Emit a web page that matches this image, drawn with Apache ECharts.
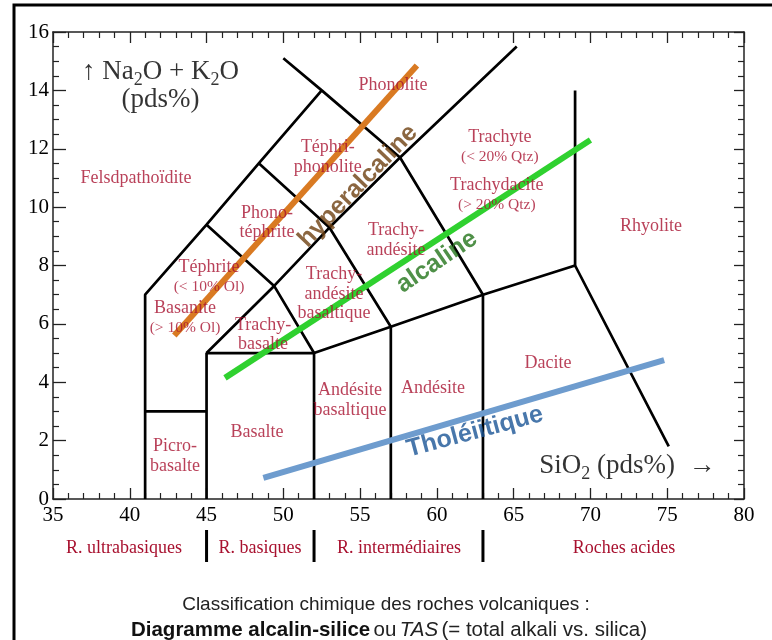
<!DOCTYPE html>
<html><head><meta charset="utf-8">
<script src="https://cdn.jsdelivr.net/npm/echarts@6/dist/echarts.min.js"></script>
<style>html,body{margin:0;padding:0;background:#fff}#c{width:772px;height:640px}</style>
</head><body><div id="c"></div>
<script>
// ---- data ----
const xRange = [35, 80];
const yRange = [0, 16];
const boundaryLines = [
  [[41,0],[41,7],[45,9.4],[48.4,11.5],[52.5,14]],
  [[50,15.1],[52.5,14],[57.6,11.7],[63,7],[69,8],[75.1,1.8]],
  [[45,5],[49.4,7.3],[53,9.3],[57.6,11.7],[65.2,15.5]],
  [[41,3],[45,3]],
  [[45,0],[45,5],[52,5],[57,5.9],[63,7]],
  [[52,0],[52,5],[49.4,7.3],[45,9.4]],
  [[57,0],[57,5.9],[53,9.3],[48.4,11.5]],
  [[63,0],[63,7]],
  [[69,8],[69,14]]
];
const hyperalkalineLine = [[42.9,5.6],[58.7,14.85]];
const alkalineLine = [[46.2,4.15],[70.0,12.3]];
const tholeiiticLine = [[48.7,0.72],[74.8,4.76]];
const regionNames = [
  'Felsdpathoïdite',
  'Phonolite',
  'Téphri-\nphonolite',
  '{b|Trachyte}\n{s|(< 20% Qtz)}',
  '{b|Trachydacite}\n{s|(> 20% Qtz)}',
  'Phono-\ntéphrite',
  'Trachy-\nandésite',
  'Rhyolite',
  '{b|Téphrite}\n{s|(< 10% Ol)}',
  '{b|Basanite}\n{s|(> 10% Ol)}',
  'Trachy-\nandésite\nbasaltique',
  'Trachy-\nbasalte',
  'Dacite',
  'Andésite',
  'Andésite\nbasaltique',
  'Basalte',
  'Picro-\nbasalte'
];
const regionX = [40.4, 57.14, 52.9, 64.1, 63.9, 48.94, 57.34, 73.94, 45.16, 43.6, 53.3, 48.68, 67.23, 59.75, 54.34, 48.28, 42.94];
const regionY = [11.0, 14.18, 11.7, 12.06, 10.42, 9.46, 8.87, 9.35, 7.6, 6.2, 7.02, 5.62, 4.66, 3.8, 3.39, 2.3, 1.47];
const seriesLabels = ['hyperalcaline', 'alcaline', 'Tholéiitique'];
const seriesLabelPos = [[54.86, 10.72], [60.0, 8.12], [62.48, 2.30]];
const groupNames = ['R. ultrabasiques', 'R. basiques', 'R. intermédiaires', 'Roches acides'];
const groupX = [39.62, 48.48, 57.53, 72.18];
const groupSeparators = [45, 52, 63];
const yTitle1 = '↑ Na{s|2}O + K{s|2}O';
const yTitle2 = '(pds%)';
const xTitle = 'SiO{s|2} (pds%)  →';
const yTitlePos = [[42.0, 14.62], [42.0, 13.67]];
const xTitlePos = [[72.4, 1.12]];

// ---- style ----
const SERIF = '"Liberation Serif", "Times New Roman", serif';
const SANS = '"Liberation Sans", Arial, sans-serif';
const RED = '#a8112f';

const chart = echarts.init(document.getElementById('c'), null, {renderer: 'canvas'});

function axisCommon(pos, showLabel, interval, minorSplit, tickLen) {
  return {
    type: 'value', position: pos,
    axisLine: {show: true, onZero: false, lineStyle: {color: '#222', width: 1.5}},
    axisTick: {show: true, inside: true, length: tickLen, lineStyle: {color: '#222', width: 1.3}},
    minorTick: {show: true, splitNumber: minorSplit, length: 6, lineStyle: {color: '#222', width: 1.2}},
    splitLine: {show: false},
    minorSplitLine: {show: false},
    interval: interval,
    axisLabel: {show: showLabel, color: '#000', fontFamily: SERIF, fontSize: 21, margin: pos === 'bottom' ? 6 : 4}
  };
}

const series = [];
boundaryLines.forEach(l => series.push({
  type: 'line', data: l, symbol: 'none', silent: true, z: 3,
  lineStyle: {color: '#000', width: 2.7}, animation: false
}));
const colorLines = [
  [hyperalkalineLine, '#d97a22'],
  [alkalineLine, '#2fd12f'],
  [tholeiiticLine, '#6e9cce']
];
colorLines.forEach(c => series.push({
  type: 'line', data: c[0], symbol: 'none', silent: true, z: 4,
  lineStyle: {color: c[1], width: 6, cap: 'butt'}, animation: false
}));

const richRed = {
  b: {fontSize: 18, color: RED, fontFamily: SERIF, lineHeight: 20},
  s: {fontSize: 15.5, color: RED, fontFamily: SERIF, lineHeight: 19}
};
series.push({
  type: 'scatter', symbolSize: 0, silent: true, clip: false, z: 6, animation: false,
  data: regionNames.map((n, i) => ({name: n, value: [regionX[i], regionY[i]]})),
  label: {show: true, position: 'inside', formatter: p => p.name, color: RED,
    fontFamily: SERIF, fontSize: 18, lineHeight: 19.5, align: 'center', rich: richRed}
});

const lineLabelColors = ['#6e4010', '#23741a', '#1a5596'];
const lineLabelRot = [46, 34, 15];
series.push({
  type: 'scatter', symbolSize: 0, silent: true, clip: false, z: 7, animation: false,
  data: seriesLabels.map((n, i) => ({
    name: n, value: seriesLabelPos[i],
    label: {color: lineLabelColors[i], rotate: lineLabelRot[i]}
  })),
  label: {show: true, position: 'inside', formatter: p => p.name,
    fontFamily: SANS, fontSize: 25, fontWeight: 'bold'}
});

const richTitle = {
  m: {fontSize: 27, fontFamily: SERIF, color: '#000', lineHeight: 34},
  s: {fontSize: 18, fontFamily: SERIF, color: '#000', lineHeight: 19, verticalAlign: 'bottom'}
};
function wrapTitle(t) {
  return t.split(/(\{s\|[^}]*\})/).map(p => p.startsWith('{s|') ? p : (p ? '{m|' + p + '}' : '')).join('');
}
series.push({
  type: 'scatter', symbolSize: 0, silent: true, clip: false, z: 7, animation: false,
  data: [
    {name: wrapTitle(yTitle1), value: yTitlePos[0]},
    {name: wrapTitle(yTitle2), value: yTitlePos[1]},
    {name: wrapTitle(xTitle), value: xTitlePos[0]}
  ],
  label: {show: true, position: 'inside', formatter: p => p.name, rich: richTitle}
});

chart.setOption({
  animation: false,
  backgroundColor: '#fff',
  grid: {left: 53, right: 28, top: 32, bottom: 141, containLabel: false, outerBoundsMode: 'none'},
  xAxis: [
    Object.assign(axisCommon('bottom', true, 5, 5, 11), {min: xRange[0], max: xRange[1]}),
    Object.assign(axisCommon('top', false, 5, 5, 11), {min: xRange[0], max: xRange[1]})
  ],
  yAxis: [
    Object.assign(axisCommon('left', true, 2, 4, 13), {min: yRange[0], max: yRange[1]}),
    Object.assign(axisCommon('right', false, 2, 4, 10), {min: yRange[0], max: yRange[1]})
  ],
  series: series
});

// outside-plot texts, positioned through the axis scale
const py = v => chart.convertToPixel({yAxisIndex: 0}, v);
const px = v => chart.convertToPixel({xAxisIndex: 0}, v);
const y0 = py(0);
const graphic = [
  {type: 'rect', silent: true, shape: {x: 14, y: 5, width: 800, height: 700},
    style: {fill: 'none', stroke: '#000', lineWidth: 3}}
];
groupNames.forEach((n, i) => graphic.push({
  type: 'text', silent: true, x: px(groupX[i]), y: y0 + 49,
  style: {text: n, fill: RED, fontFamily: SERIF, fontSize: 18, align: 'center', verticalAlign: 'middle'}
}));
groupSeparators.forEach(v => graphic.push({
  type: 'line', silent: true, shape: {x1: px(v), y1: y0 + 31, x2: px(v), y2: y0 + 63},
  style: {stroke: '#000', lineWidth: 3}
}));
graphic.push({
  type: 'text', silent: true, x: 386, y: 605,
  style: {text: 'Classification chimique des roches volcaniques :', fill: '#222',
    fontFamily: SANS, fontSize: 19, align: 'center', verticalAlign: 'middle'}
});
graphic.push({
  type: 'text', silent: true, x: 389, y: 630,
  style: {text: '{b|Diagramme alcalin-silice} {n|ou} {i|TAS} {n|(= total alkali vs. silica)}',
    align: 'center', verticalAlign: 'middle',
    rich: {
      b: {fontFamily: SANS, fontSize: 20.5, fontWeight: 'bold', fill: '#111'},
      n: {fontFamily: SANS, fontSize: 20.5, fill: '#222'},
      i: {fontFamily: SANS, fontSize: 20.5, fontStyle: 'italic', fill: '#222'}
    }}
});
chart.setOption({graphic: graphic});
</script>
</body></html>
